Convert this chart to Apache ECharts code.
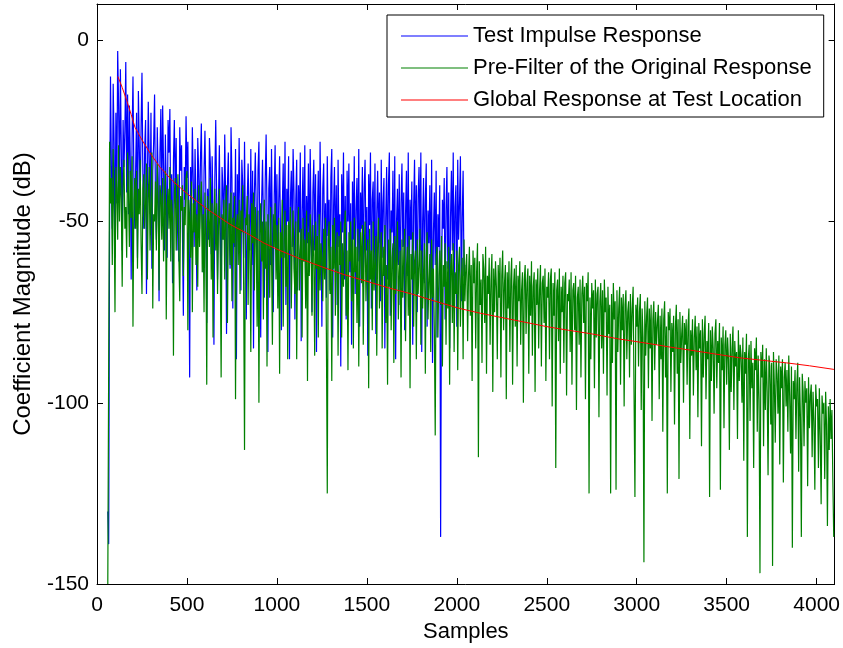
<!DOCTYPE html>
<html>
<head>
<meta charset="utf-8">
<script src="https://cdn.jsdelivr.net/npm/echarts@6/dist/echarts.min.js"></script>
<style>
html,body{margin:0;padding:0;background:#fff;}
#chart{width:843px;height:648px;}
</style>
</head>
<body>
<div id="chart"></div>
<script>
// ---- data ----
const xTicks = [0, 500, 1000, 1500, 2000, 2500, 3000, 3500, 4000];
const yTicks = [-150, -100, -50, 0];
const seriesNames = ['Test Impulse Response', 'Pre-Filter of the Original Response', 'Global Response at Test Location'];

const sampleStep = 5;
const blueStart = 60;
const blueValues = [
-130,-139,-50,-10,
-35,-52,-12,-28,-60,-20,-45,-3,-18,-40,-8,-30,-58,-22,-35,-25,-6,-42,-15,-48,
-18,-33,-66,-27,-10,-38,-52,-35,-20,-60,-14,-29,-45,-24,-9,-37,-52,-30,-22,-70,
-40,-17,-32,-48,-20,-63,-36,-28,-15,-44,-55,-24,-38,-72,-31,-19,-46,-18,-35,-58,
-26,-41,-60,-22,-31,-19,-50,-37,-67,-33,-22,-45,-27,-58,-40,-61,-24,-36,-29,-53,
-76,-35,-44,-21,-38,-28,-52,-93,-35,-47,-24,-39,-57,-30,-45,-69,-27,-36,-52,-33,
-23,-48,-64,-36,-25,-42,-78,-41,-55,-27,-34,-59,-32,-47,-84,-38,-22,-43,-66,-45,
-29,-50,-72,-35,-41,-55,-26,-44,-81,-40,-31,-52,-63,-24,-38,-74,-42,-57,-30,-88,
-37,-51,-27,-46,-69,-33,-40,-60,-28,-53,-77,-44,-34,-49,-58,-30,-62,-36,-85,-42,
-31,-47,-67,-36,-28,-55,-82,-45,-33,-50,-71,-39,-26,-48,-86,-41,-35,-62,-30,-54,
-75,-43,-29,-58,-37,-68,-45,-32,-54,-80,-46,-34,-60,-28,-73,-41,-50,-32,-88,-44,
-36,-57,-30,-42,-77,-44,-33,-69,-40,-53,-31,-83,-47,-35,-61,-29,-72,-43,-56,-34,
-64,-30,-49,-75,-42,-33,-58,-37,-86,-48,-36,-65,-28,-51,-79,-41,-34,-60,-45,-71,
-32,-54,-44,-69,-38,-30,-82,-46,-35,-62,-40,-73,-33,-57,-48,-90,-37,-53,-31,-66,
-43,-77,-36,-50,-34,-64,-45,-84,-39,-55,-32,-70,-47,-38,-61,-30,-79,-42,-52,-35,
-68,-41,-33,-58,-46,-87,-37,-51,-31,-74,-44,-39,-63,-34,-81,-48,-36,-56,-42,-72,
-33,-60,-45,-38,-85,-49,-35,-66,-40,-31,-76,-47,-53,-36,-69,-32,-88,-50,-41,-62,
-37,-73,-45,-34,-57,-42,-80,-48,-36,-65,-31,-71,-44,-55,-39,-84,-46,-33,-60,-40,
-75,-43,-35,-58,-31,-86,-50,-38,-67,-44,-34,-79,-47,-56,-40,-70,-33,-89,-53,-42,
-62,-36,-82,-48,-57,-40,-137,-65,-44,-52,-38,-77,-47,-35,-63,-42,-85,-49,-36,-58,
-31,-70,-46,-40,-79,-33,-55,-45,-32,-72,-49,-36,-65,-62
];

const greenStart = 60;
const greenValues = [
-150,-150,-28,-45,
-38,-62,-30,-47,-75,-35,-41,-55,-29,-50,-35,-44,-68,-40,-33,-52,-46,-60,-31,-42,
-57,-36,-49,-32,-79,-44,-38,-52,-36,-63,-41,-48,-33,-56,-70,-41,-37,-52,-45,-34,
-66,-43,-35,-58,-45,-31,-74,-48,-50,-39,-58,-34,-46,-69,-40,-43,-55,-38,-61,-47,
-36,-77,-46,-41,-52,-35,-61,-44,-49,-87,-42,-38,-58,-47,-37,-60,-72,-43,-47,-40,
-65,-46,-51,-38,-36,-80,-44,-49,-60,-39,-75,-45,-53,-41,-62,-48,-68,-40,-57,-45,
-39,-64,-48,-75,-42,-53,-95,-43,-50,-57,-38,-66,-45,-82,-50,-41,-58,-45,-70,-52,
-41,-60,-93,-48,-55,-44,-66,-47,-40,-78,-52,-45,-62,-42,-72,-49,-56,-43,-99,-51,
-48,-62,-44,-70,-47,-53,-40,-67,-113,-49,-51,-43,-73,-48,-58,-86,-45,-56,-42,-69,
-46,-55,-79,-47,-100,-54,-45,-61,-50,-77,-44,-63,-50,-90,-48,-55,-71,-46,-59,-84,
-48,-57,-45,-66,-51,-74,-49,-92,-53,-60,-44,-79,-55,-47,-68,-51,-88,-50,-58,-46,
-74,-56,-47,-63,-70,-50,-88,-54,-46,-69,-58,-52,-82,-49,-61,-55,-74,-47,-94,-53,
-65,-48,-57,-76,-51,-59,-87,-50,-63,-54,-82,-48,-69,-56,-60,-72,-52,-66,-49,-81,
-125,-55,-50,-70,-57,-94,-51,-63,-49,-76,-59,-53,-87,-54,-62,-50,-82,-56,-68,-52,
-47,-76,-58,-91,-53,-61,-50,-72,-55,-85,-49,-64,-57,-78,-52,-90,-60,-53,-67,-51,
-84,-58,-50,-72,-61,-55,-96,-52,-66,-58,-80,-50,-69,-62,-54,-87,-56,-49,-74,-60,
-53,-85,-57,-65,-51,-78,-62,-95,-55,-68,-52,-80,-60,-56,-89,-54,-70,-61,-50,-77,
-64,-58,-93,-55,-71,-60,-52,-83,-63,-57,-76,-54,-96,-59,-66,-53,-79,-61,-58,-88,
-55,-70,-62,-52,-84,-58,-74,-64,-56,-92,-60,-53,-77,-66,-59,-86,-55,-71,-63,-80,
-109,-60,-57,-82,-65,-58,-73,-54,-90,-62,-68,-56,-84,-61,-74,-57,-95,-63,-59,-78,
-56,-86,-64,-70,-58,-91,-62,-57,-79,-66,-60,-88,-55,-72,-63,-59,-83,-65,-57,-76,
-62,-94,-58,-67,-60,-85,-64,-56,-115,-61,-73,-66,-89,-59,-63,-78,-57,-92,-65,-70,
-60,-84,-66,-59,-97,-63,-75,-61,-68,-88,-62,-71,-60,-93,-65,-58,-80,-67,-62,-99,
-64,-74,-61,-86,-66,-60,-95,-68,-63,-79,-62,-90,-65,-72,-61,-84,-69,-64,-100,-66,
-62,-81,-67,-63,-92,-65,-76,-61,-87,-68,-64,-97,-66,-73,-63,-85,-69,-62,-90,-67,
-65,-78,-63,-94,-68,-71,-64,-88,-66,-63,-101,-67,-76,-64,-118,-69,-66,-83,-63,-92,
-68,-75,-65,-89,-67,-64,-98,-70,-72,-66,-86,-64,-95,-69,-67,-80,-65,-102,-71,-68,
-84,-66,-93,-70,-65,-78,-68,-99,-67,-72,-64,-125,-71,-88,-67,-74,-69,-96,-66,-82,
-70,-68,-104,-72,-67,-85,-69,-92,-66,-75,-71,-98,-68,-81,-73,-125,-70,-89,-67,-77,
-72,-124,-69,-86,-74,-68,-95,-71,-80,-70,-101,-73,-69,-88,-75,-72,-93,-70,-84,-74,
-68,-97,-126,-73,-79,-71,-90,-75,-70,-102,-74,-82,-144,-72,-87,-76,-71,-96,-74,-85,
-73,-105,-77,-72,-91,-75,-84,-78,-73,-99,-76,-88,-74,-108,-77,-72,-93,-79,-125,-75,
-80,-74,-97,-78,-86,-76,-106,-79,-73,-92,-77,-121,-75,-89,-81,-76,-100,-78,-84,-77,
-95,-79,-74,-110,-80,-87,-77,-98,-82,-76,-91,-79,-104,-78,-85,-80,-112,-77,-93,-81,
-76,-99,-83,-88,-78,-126,-80,-94,-79,-85,-103,-81,-77,-96,-83,-89,-78,-124,-82,-91,
-79,-107,-84,-80,-95,-82,-88,-113,-81,-97,-85,-79,-102,-83,-90,-86,-110,-80,-94,-84,
-87,-100,-82,-116,-86,-92,-81,-137,-88,-84,-105,-83,-96,-89,-118,-85,-91,-82,-108,-87,
-99,-147,-86,-93,-84,-112,-88,-102,-85,-97,-120,-87,-90,-106,-89,-145,-86,-95,-111,-88,
-92,-103,-87,-117,-90,-96,-88,-122,-93,-89,-101,-91,-108,-87,-98,-114,-90,-140,-94,-99,
-91,-110,-95,-89,-119,-93,-104,-137,-92,-97,-112,-94,-100,-96,-123,-93,-107,-98,-95,-115,
-97,-105,-124,-95,-101,-99,-118,-96,-109,-128,-98,-103,-100,-121,-97,-106,-134,-101,-113,-99,
-110,-102,-121,-137
];

const redSamples = [116,140,165,190,211,250,300,350,420,500,570,637,740,846,930,1017,1130,1250,1370,1500,1620,1750,1880,2017,2130,2250,2380,2500,2620,2750,2900,3072,3180,3300,3430,3572,3700,3833,3960,4096];
const redValues  = [-10,-13,-16.6,-20.5,-24,-27.5,-31.5,-35,-38.8,-42.3,-45,-47.4,-50.8,-53.6,-56,-58,-60.3,-62.5,-64.6,-66.5,-68.3,-70,-72,-74,-75.3,-76.5,-77.8,-79,-80,-81,-82.4,-83.7,-84.6,-85.5,-86.5,-87.6,-88.3,-89,-89.8,-90.8];

// ---- build ----
const blueData = blueValues.map((v, i) => [blueStart + i * sampleStep, v]);
const greenData = greenValues.map((v, i) => [greenStart + i * sampleStep, v]);
const redData = redSamples.map((s, i) => [s, redValues[i]]);

const FONT = "'Liberation Sans', Arial, Helvetica, sans-serif";
const FS = 21;

const chart = echarts.init(document.getElementById('chart'), null, {renderer: 'canvas'});

function axisCommon() {
  return {
    axisLine: {show: true, onZero: false, lineStyle: {color: '#000', width: 1}},
    axisTick: {show: true, inside: true, length: 6, lineStyle: {color: '#000'}},
    splitLine: {show: false}
  };
}

chart.setOption({
  animation: false,
  backgroundColor: '#fff',
  grid: {left: 97, right: 7, top: 4, bottom: 64, containLabel: false},
  xAxis: [
    Object.assign({
      type: 'value', min: 0, max: 4100, interval: 500, position: 'bottom',
      name: 'Samples', nameLocation: 'middle', nameGap: 37,
      nameTextStyle: {fontFamily: FONT, fontSize: 22, color: '#000'},
      axisLabel: {show: true, fontFamily: FONT, fontSize: FS, color: '#000', margin: 11, showMaxLabel: false,
        formatter: v => xTicks.includes(v) ? String(v) : ''}
    }, axisCommon()),
    Object.assign({
      type: 'value', min: 0, max: 4100, interval: 500, position: 'top',
      axisLabel: {show: false}
    }, axisCommon())
  ],
  yAxis: [
    Object.assign({
      type: 'value', min: -150, max: 10, interval: 50, position: 'left',
      name: 'Coefficient Magnitude (dB)', nameLocation: 'middle', nameGap: 62,
      nameTextStyle: {fontFamily: FONT, fontSize: 24, color: '#000'},
      axisLabel: {show: true, fontFamily: FONT, fontSize: FS, color: '#000', margin: 8, showMaxLabel: false,
        formatter: v => yTicks.includes(v) ? String(v) : ''}
    }, axisCommon()),
    Object.assign({
      type: 'value', min: -150, max: 10, interval: 50, position: 'right',
      axisLabel: {show: false}
    }, axisCommon())
  ],
  legend: {
    show: true,
    orient: 'vertical',
    left: 387, top: 15,
    padding: [9, 12, 5, 14],
    itemWidth: 67, itemHeight: 1, itemGap: 8,
    backgroundColor: '#fff', borderColor: '#000', borderWidth: 1,
    selectedMode: false,
    textStyle: {fontFamily: FONT, fontSize: 22, color: '#000', lineHeight: 24},
    data: seriesNames.map(n => ({name: n, icon: 'rect'}))
  },
  series: [
    {name: seriesNames[0], type: 'line', data: blueData, showSymbol: false, symbol: 'none',
     lineStyle: {color: '#0000ff', width: 1.2}, itemStyle: {color: '#0000ff'}, z: 2},
    {name: seriesNames[1], type: 'line', data: greenData, showSymbol: false, symbol: 'none',
     lineStyle: {color: '#008000', width: 1.2}, itemStyle: {color: '#008000'}, z: 3},
    {name: seriesNames[2], type: 'line', data: redData, showSymbol: false, symbol: 'none',
     lineStyle: {color: '#ff0000', width: 1}, itemStyle: {color: '#ff0000'}, z: 4}
  ]
});
</script>
</body>
</html>
